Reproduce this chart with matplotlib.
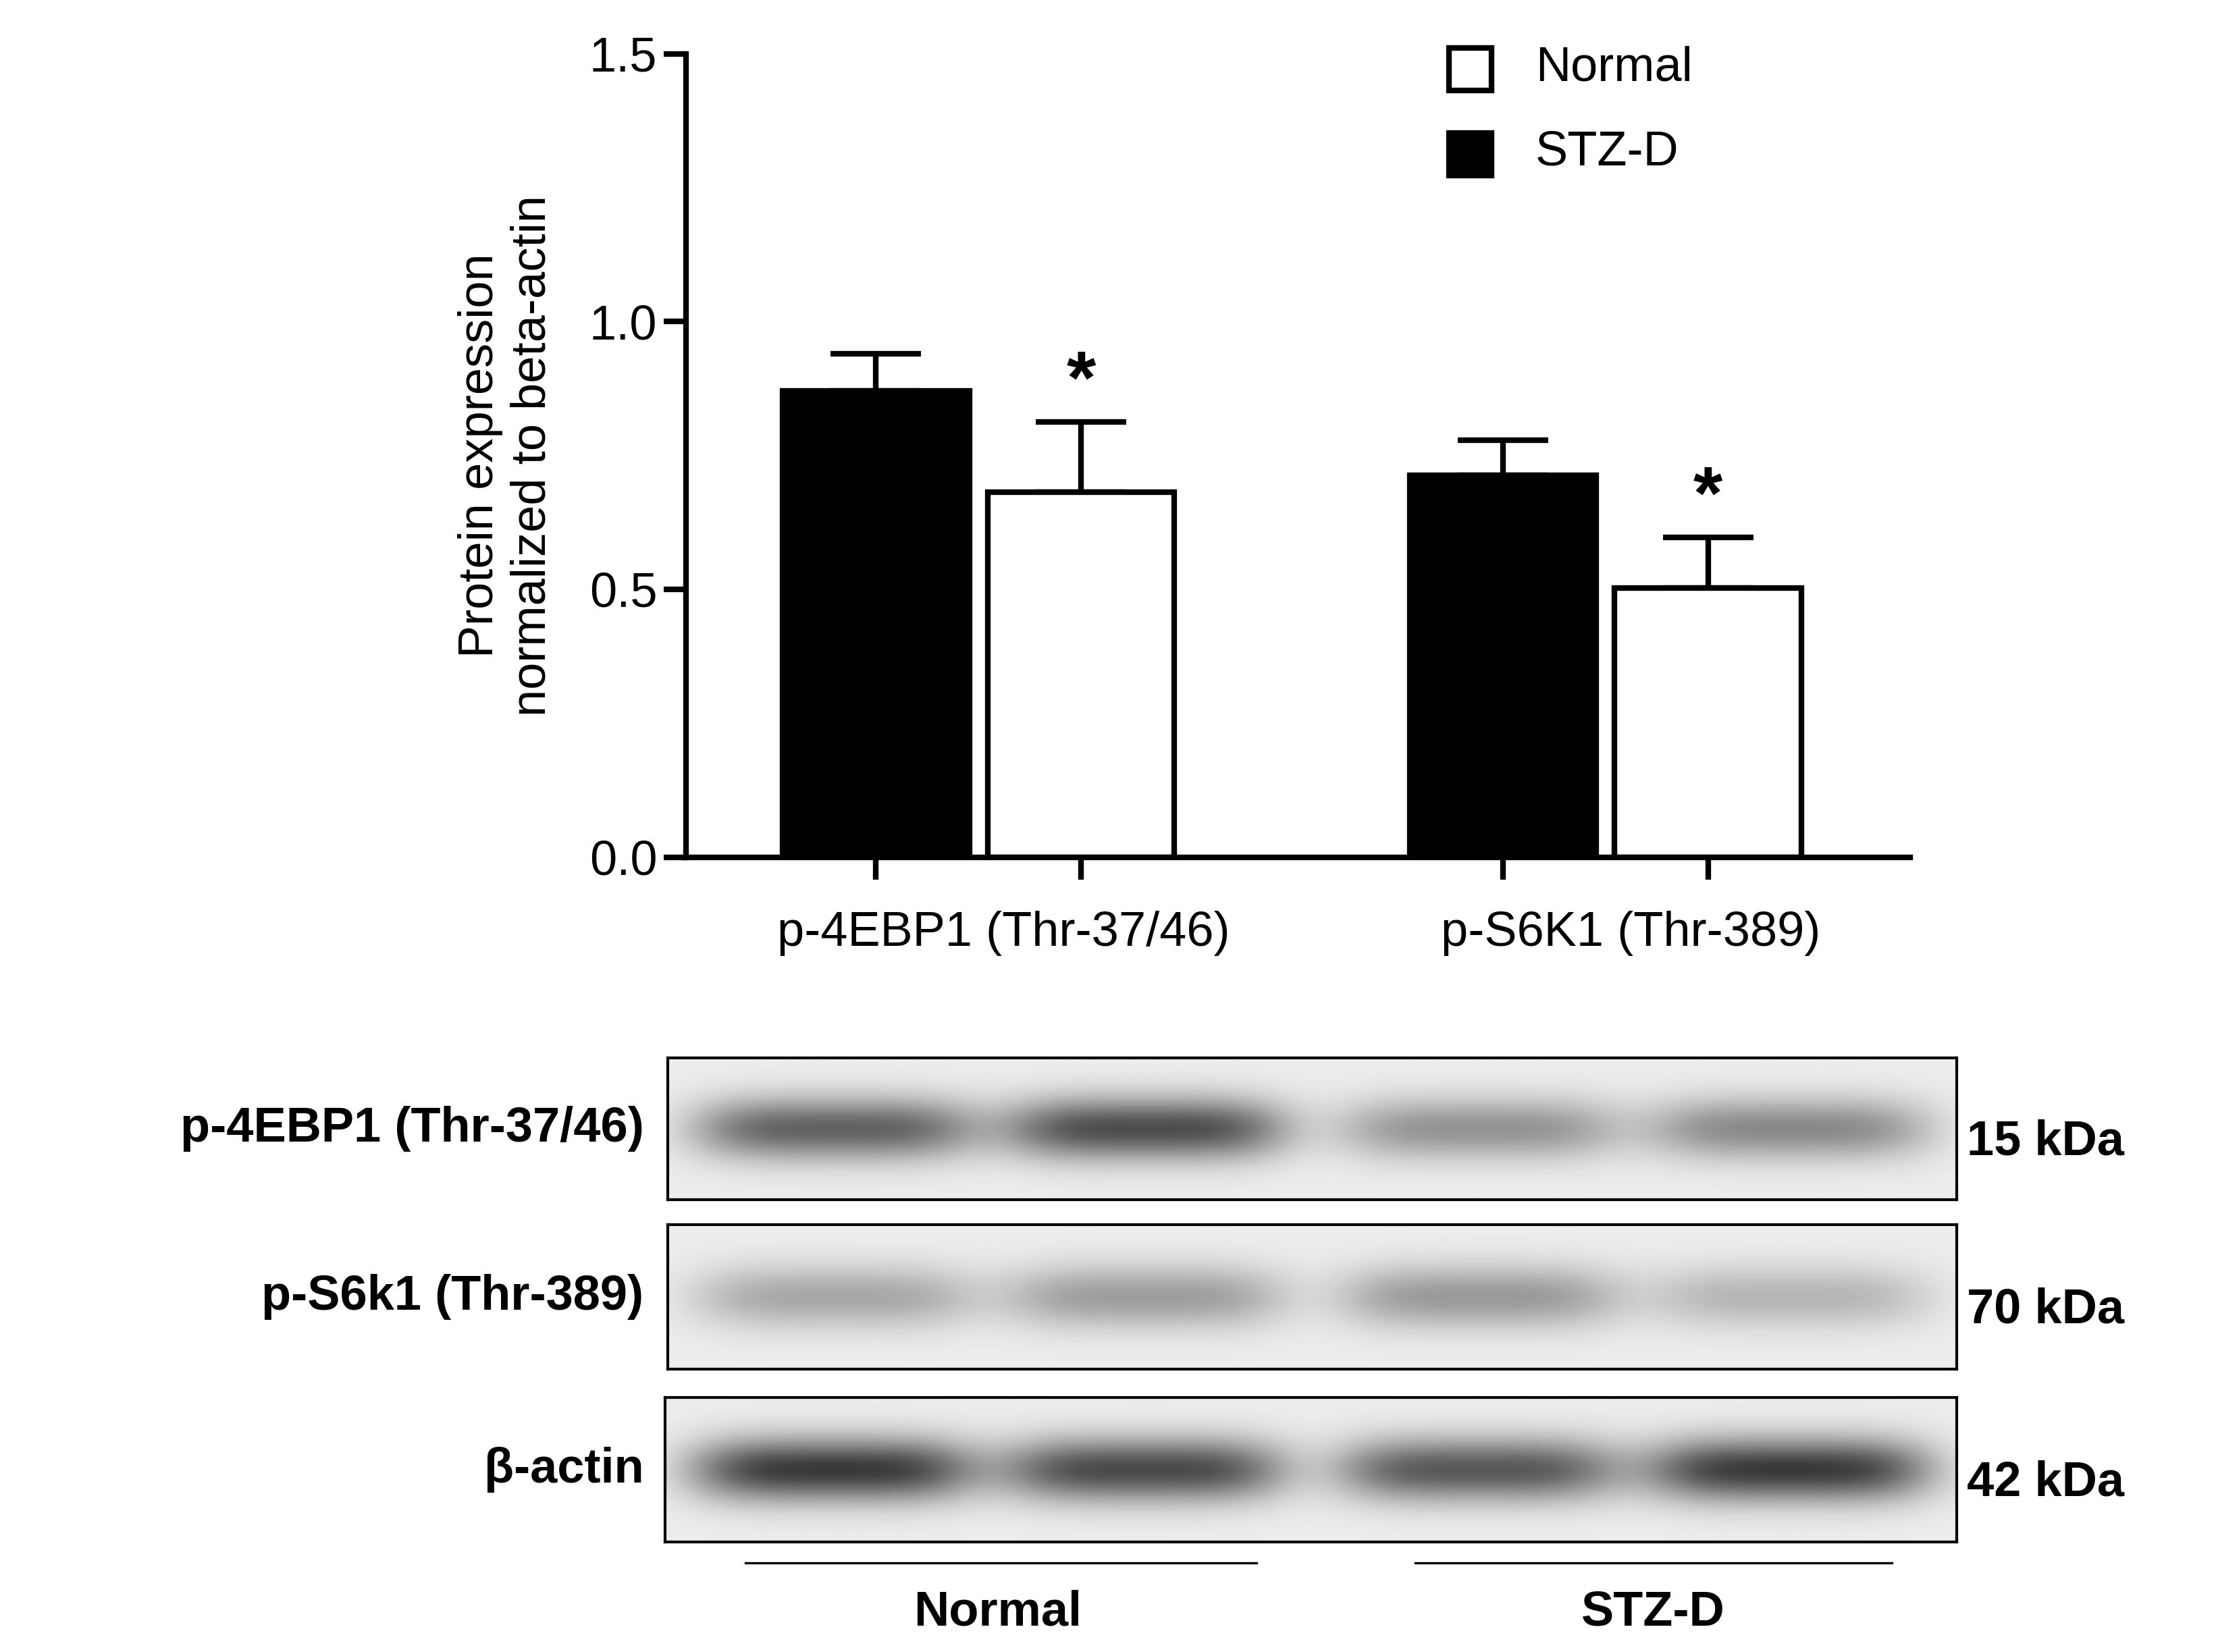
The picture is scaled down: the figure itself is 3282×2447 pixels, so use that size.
import numpy as np
import matplotlib
matplotlib.use("Agg")
import matplotlib.pyplot as plt
from matplotlib.patches import Rectangle

plt.rcParams['font.family'] = ['Liberation Sans', 'DejaVu Sans']

groups = ["p-4EBP1 (Thr-37/46)", "p-S6K1 (Thr-389)"]
stzd = [0.871, 0.713]
stzd_err = [0.069, 0.066]
normal = [0.681, 0.502]
normal_err = [0.132, 0.095]
yticks = [0.0, 0.5, 1.0, 1.5]

blot_names = ["p-4EBP1 (Thr-37/46)", "p-S6k1 (Thr-389)", "β-actin"]
blot_kda = ["15 kDa", "70 kDa", "42 kDa"]
band_intensity = [[0.70, 0.80, 0.45, 0.50],
                  [0.35, 0.40, 0.42, 0.28],
                  [0.90, 0.82, 0.75, 0.90]]

W, H = 1566, 1168
fig = plt.figure(figsize=(3282/200, 2447/200), dpi=200)
def rect(x0, y0, x1, y1):
    return [x0/W, 1-y1/H, (x1-x0)/W, (y1-y0)/H]

ax = fig.add_axes(rect(485, 38, 1350, 606))
x = np.arange(len(groups))
off, bw = 0.327, 0.298
xs = x - off/2
xn = x + off/2
ax.bar(xs, stzd, bw, color='black', edgecolor='black', linewidth=3, zorder=2)
ax.errorbar(xs, stzd, yerr=[[0]*2, stzd_err], fmt='none', ecolor='black', elinewidth=3, capsize=24, capthick=3, zorder=1)
ax.bar(xn, normal, bw, color='white', edgecolor='black', linewidth=3, zorder=2)
ax.errorbar(xn, normal, yerr=[[0]*2, normal_err], fmt='none', ecolor='black', elinewidth=3, capsize=24, capthick=3, zorder=1)
for xi, v, e in zip(xn, normal, normal_err):
    ax.text(xi, v+e+0.005, '*', ha='center', va='bottom', fontsize=40, fontweight='bold')
ax.set_xlim(-0.466, 1.486)
ax.set_ylim(0, 1.5)
ax.set_yticks(yticks)
ax.set_yticklabels([f"{t:.1f}" for t in yticks], fontsize=26)
ax.set_xticks(list(xs)+list(xn))
ax.set_xticklabels([])
for xi, g in zip(x, groups):
    ax.text(xi+0.04, -0.1, g, ha='center', va='top', fontsize=26, transform=ax.transData)
for s in ['top', 'right']:
    ax.spines[s].set_visible(False)
for s in ['left', 'bottom']:
    ax.spines[s].set_linewidth(3)
ax.tick_params(width=3, length=12)
ax.set_ylabel("Protein expression\nnormalized to beta-actin", fontsize=26, labelpad=18)
# legend
fig.patches.append(Rectangle((1024/W, 1-64/H), 30/W, 30/H, transform=fig.transFigure, fc='white', ec='black', lw=3))
fig.patches.append(Rectangle((1024/W, 1-124/H), 30/W, 30/H, transform=fig.transFigure, fc='black', ec='black', lw=3))
fig.text(1085/W, 1-48/H, "Normal", fontsize=26, va='center')
fig.text(1085/W, 1-108/H, "STZ-D", fontsize=26, va='center')

# blots
panels = [(472, 748, 1383, 848), (472, 866, 1383, 968), (470, 988, 1383, 1090)]
lanes = [0.13, 0.37, 0.63, 0.87]
for (x0, y0, x1, y1), name, kda, ints in zip(panels, blot_names, blot_kda, band_intensity):
    bax = fig.add_axes(rect(x0, y0, x1, y1))
    xx = np.linspace(0, 1, 600)[None, :]
    yy = np.linspace(0, 1, 100)[:, None]
    img = np.zeros((100, 600))
    for lx, a in zip(lanes, ints):
        img += a * np.exp(-((xx-lx)/0.11)**4) * np.exp(-((yy-0.5)/0.22)**2)
    img = np.clip(img, 0, 1)
    bax.imshow(0.93 - 0.78*img, cmap='gray', vmin=0, vmax=1, aspect='auto', extent=[0, 1, 0, 1])
    bax.set_xticks([]); bax.set_yticks([])
    for s in bax.spines.values():
        s.set_linewidth(1.5)
    yc = 1 - (y0+y1)/2/H
    fig.text(455/W, yc, name, ha='right', va='center', fontsize=26, fontweight='bold')
    fig.text(1390/W, yc-0.008, kda, ha='left', va='center', fontsize=26, fontweight='bold')

fig.add_artist(plt.Line2D([527/W, 888/W], [1-1105/H]*2, color='black', lw=1.2))
fig.add_artist(plt.Line2D([1000/W, 1337/W], [1-1105/H]*2, color='black', lw=1.2))
fig.text(705/W, 1-1140/H, "Normal", ha='center', va='center', fontsize=26, fontweight='bold')
fig.text(1168/W, 1-1140/H, "STZ-D", ha='center', va='center', fontsize=26, fontweight='bold')

fig.savefig("out.png", dpi=200, facecolor='white')
